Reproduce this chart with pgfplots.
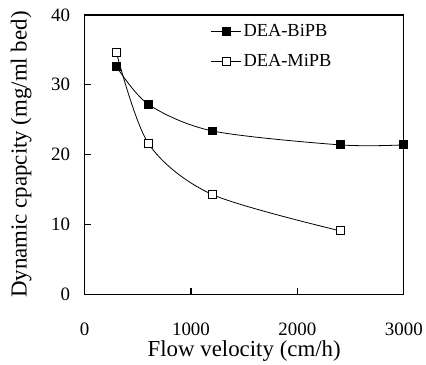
\documentclass[border=0pt]{standalone}
\usepackage{pgfplots}
\pgfplotsset{compat=1.18}
\usepackage{fontspec}
\setmainfont{Liberation Serif}
\newcommand{\legfont}{\fontsize{18.5bp}{21bp}\selectfont}
\begin{document}
\begin{tikzpicture}
\begin{axis}[
  scale only axis,
  width=321bp, height=281bp,
  xmin=0, xmax=3000, ymin=0, ymax=40,
  xtick={0,1000,2000,3000}, ytick={0,10,20,30,40},
  tick align=inside, tick pos=left,
  major tick length=6bp,
  axis line style={line width=1.2bp},
  tick style={line width=1.2bp, black},
  /pgf/number format/assume math mode=true,
  /pgf/number format/1000 sep={},
  tick label style={font=\fontsize{19bp}{22bp}\selectfont},
  label style={font=\fontsize{23bp}{26bp}\selectfont},
  xticklabel style={yshift=-25bp},
  yticklabel style={xshift=-11bp},
  xlabel={Flow velocity (cm/h)},
  ylabel={Dynamic cpapcity (mg/ml bed)},
  xlabel style={yshift=2bp},
  ylabel style={yshift=13bp},
  legend style={draw=none, fill=none, at={(0.386,0.98)}, anchor=north west,
    row sep=12bp},
  legend cell align=left,
  legend image code/.code={
    \draw[#1, mark repeat=2, mark phase=2] plot coordinates {(0bp,0bp) (15bp,0bp) (30bp,0bp)};
  },
]
\addplot[black, line width=0.8bp, smooth, tension=0.5, mark=square*, mark size=4bp, mark options={solid, fill=black}]
  coordinates {(300,32.6) (600,27.2) (1200,23.4) (2400,21.4) (3000,21.4)};
\addlegendentry{\legfont DEA-BiPB}
\addplot[black, line width=0.8bp, smooth, tension=0.5, mark=square*, mark size=4bp, mark options={solid, fill=white}]
  coordinates {(300,34.6) (600,21.6) (1200,14.3) (2400,9.1)};
\addlegendentry{\legfont DEA-MiPB}
\end{axis}
\path (current axis.south west) ++(-85bp,-68bp) rectangle ++(426bp,364bp);
\end{tikzpicture}
\end{document}
